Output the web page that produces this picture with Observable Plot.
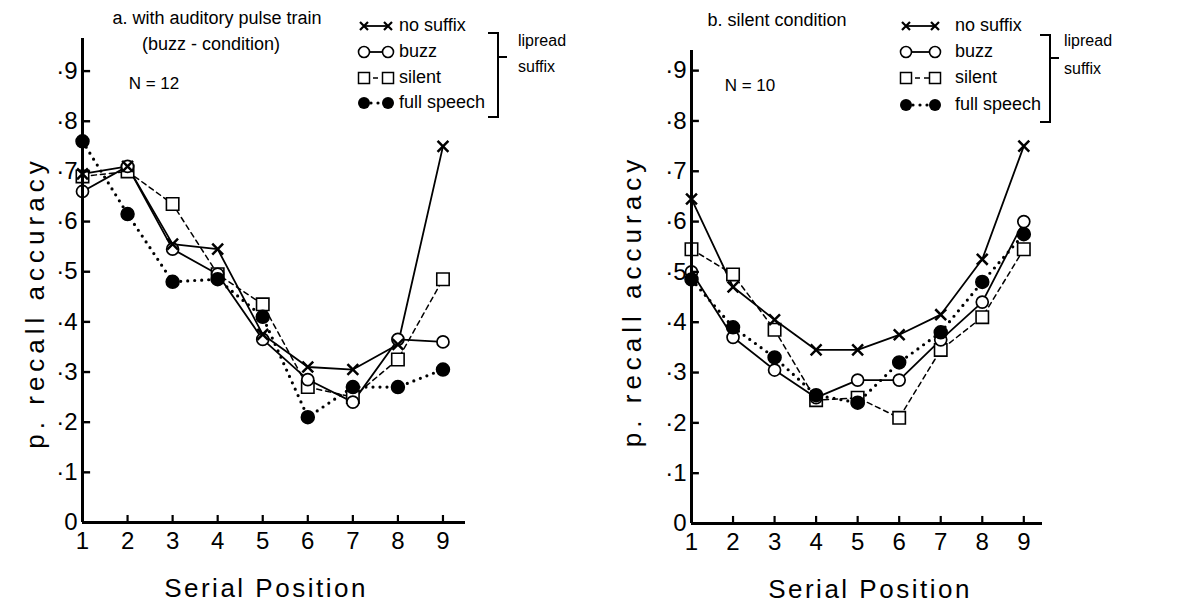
<!DOCTYPE html>
<html><head><meta charset="utf-8">
<script src="https://cdn.jsdelivr.net/npm/d3@7"></script>
<script src="https://cdn.jsdelivr.net/npm/@observablehq/plot@0.6"></script>
<style>
body{margin:0;background:#fff;}
#wrap{position:relative;width:1193px;height:603px;overflow:hidden;font-family:"Liberation Sans",Arial,sans-serif;}
#wrap > svg{position:absolute;top:0;}
</style></head><body><div id="wrap"></div>
<script>
// ---- data ----
const positions = [1,2,3,4,5,6,7,8,9];
const yTicks = [0,.1,.2,.3,.4,.5,.6,.7,.8,.9];
const seriesNames = ["no suffix","buzz","silent","full speech"];
const panelTitlesA = ["a. with auditory pulse train","(buzz - condition)"];
const panelTitlesB = ["b. silent condition"];
const nLabels = ["N = 12","N = 10"];
const bracketLabel = ["lipread","suffix"];
const xLabel = "Serial Position";
const yLabel = "p. recall accuracy";

const a_noSuffix = [.695,.71,.555,.545,.375,.31,.305,.355,.75];
const a_buzz     = [.66,.71,.545,.495,.365,.285,.24,.365,.36];
const a_silent   = [.69,.70,.635,.495,.435,.27,.25,.325,.485];
const a_full     = [.76,.615,.48,.485,.41,.21,.27,.27,.305];

const b_noSuffix = [.645,.47,.405,.345,.345,.375,.415,.525,.75];
const b_buzz     = [.50,.37,.305,.25,.285,.285,.365,.44,.60];
const b_silent   = [.545,.495,.385,.245,.25,.21,.345,.41,.545];
const b_full     = [.485,.39,.33,.255,.24,.32,.38,.48,.575];

function rows(arrs){
  const out=[];
  seriesNames.forEach((s,i)=>arrs[i].forEach((v,j)=>out.push({series:s,pos:positions[j],value:v})));
  return out;
}
const dataA = rows([a_noSuffix,a_buzz,a_silent,a_full]);
const dataB = rows([b_noSuffix,b_buzz,b_silent,b_full]);

const lineStyle = {
  "no suffix":  {strokeWidth:1.8},
  "buzz":       {strokeWidth:1.8},
  "silent":     {strokeWidth:1.5, strokeDasharray:"5,4"},
  "full speech":{strokeWidth:3.2, strokeDasharray:"0,7", strokeLinecap:"round"}
};

const FONT = "Liberation Sans, Arial, sans-serif";

function panel(data, o){
  const sel = s => data.filter(d=>d.series===s);
  const marks = [];
  seriesNames.forEach(s=>marks.push(Plot.line(sel(s),{x:"pos",y:"value",stroke:"#000",...lineStyle[s]})));
  marks.push(Plot.dot(sel("silent"),{x:"pos",y:"value",symbol:"square",r:7,fill:"#fff",stroke:"#000",strokeWidth:1.6}));
  marks.push(Plot.dot(sel("buzz"),{x:"pos",y:"value",symbol:"circle",r:6,fill:"#fff",stroke:"#000",strokeWidth:1.7}));
  marks.push(Plot.dot(sel("full speech"),{x:"pos",y:"value",symbol:"circle",r:6.5,fill:"#000",stroke:"#000"}));
  marks.push(Plot.dot(sel("no suffix"),{x:"pos",y:"value",symbol:"times",r:5,stroke:"#000",strokeWidth:2.5}));
  // axes
  marks.push(Plot.ruleX([1],{stroke:"#000",strokeWidth:3}));
  marks.push(Plot.ruleY([0],{stroke:"#000",strokeWidth:3}));
  marks.push(Plot.ruleY(yTicks.slice(1),{y:d=>d,x1:1,x2:1+o.tickX,stroke:"#000",strokeWidth:2.4}));
  marks.push(Plot.ruleX(positions.slice(1),{x:d=>d,y1:0,y2:0.014,stroke:"#000",strokeWidth:2.2}));
  marks.push(Plot.axisX({ticks:positions,tickSize:0,tickPadding:9,fontSize:24,label:null,tickFormat:d=>String(d)}));
  marks.push(Plot.axisY({ticks:yTicks,tickSize:0,tickPadding:5,fontSize:24,label:null,
    tickFormat:d=>d===0?"0":"\u00B7"+Math.round(d*10)}));
  marks.push(Plot.text([xLabel],{text:d=>d,frameAnchor:"bottom",dx:o.xlabDx,dy:74,fontSize:26}));
  marks.push(Plot.text([yLabel],{text:d=>d,frameAnchor:"left",textAnchor:"middle",rotate:-90,dx:o.ylabDx,dy:o.ylabDy,fontSize:26}));
  const svg = Plot.plot({
    width:o.width,height:603,
    marginLeft:o.ml,marginRight:o.mr,marginTop:o.mt,marginBottom:o.mb,
    x:{domain:o.xdom},y:{domain:o.ydom},
    style:{fontFamily:FONT,background:"transparent",color:"#000"},
    marks
  });
  d3.select(svg).selectAll("text").filter(function(){return this.textContent===xLabel;}).style("letter-spacing","2.5px");
  d3.select(svg).selectAll("text").filter(function(){return this.textContent===yLabel;}).style("letter-spacing","5px");
  svg.style.left = o.left+"px";
  return svg;
}

const wrap = document.getElementById("wrap");
wrap.appendChild(panel(dataA,{left:0,width:596,ml:82,mr:131,mt:38,mb:81,xdom:[1,9.5],ydom:[0,0.965],tickX:0.18,xlabDx:-8,ylabDx:-47,ylabDy:22}));
wrap.appendChild(panel(dataB,{left:596,width:597,ml:95,mr:151,mt:50,mb:80,xdom:[1,9.45],ydom:[0,0.94],tickX:0.19,xlabDx:3,ylabDx:-59,ylabDy:14}));

// ---- overlay: titles, N labels, legends ----
const ov = d3.select(wrap).append("svg").attr("width",1193).attr("height",603)
  .style("left","0px").style("font-family",FONT);

function txt(x,y,s,size,anchor){
  ov.append("text").attr("x",x).attr("y",y).attr("font-size",size).attr("dominant-baseline","middle")
    .attr("text-anchor",anchor||"start").text(s);
}
txt(217,19,panelTitlesA[0],18,"middle");
txt(211,45,panelTitlesA[1],18,"middle");
txt(154,85,nLabels[0],17,"middle");
txt(777,21,panelTitlesB[0],18,"middle");
txt(750,87,nLabels[1],17,"middle");

function legend(o){
  const ys=o.ys;
  seriesNames.forEach((s,i)=>{
    const y=ys[i];
    const ls=lineStyle[s];
    ov.append("line").attr("x1",o.x0).attr("x2",o.x1).attr("y1",y).attr("y2",y).attr("stroke","#000")
      .attr("stroke-width",ls.strokeWidth).attr("stroke-dasharray",ls.strokeDasharray||null)
      .attr("stroke-linecap",ls.strokeLinecap||null);
    [o.x0,o.x1].forEach(x=>{
      if(s==="no suffix"){
        ov.append("path").attr("d",`M${x-4},${y-4}L${x+4},${y+4}M${x-4},${y+4}L${x+4},${y-4}`).attr("stroke","#000").attr("stroke-width",2.2);
      } else if(s==="buzz"){
        ov.append("circle").attr("cx",x).attr("cy",y).attr("r",5.5).attr("fill","#fff").attr("stroke","#000").attr("stroke-width",1.6);
      } else if(s==="silent"){
        ov.append("rect").attr("x",x-5.5).attr("y",y-5.5).attr("width",11).attr("height",11).attr("fill","#fff").attr("stroke","#000").attr("stroke-width",1.5);
      } else {
        ov.append("circle").attr("cx",x).attr("cy",y).attr("r",6).attr("fill","#000");
      }
    });
    txt(o.tx,y,s,18);
  });
  const b=o.br;
  ov.append("path").attr("d",`M${b.x-10},${b.y0}H${b.x}V${b.y1}H${b.x-10}M${b.x},${b.ym}H${b.x+9}`)
    .attr("fill","none").attr("stroke","#000").attr("stroke-width",2);
  txt(b.lx,b.ly0,bracketLabel[0],16);
  txt(b.lx,b.ly1,bracketLabel[1],16);
}
legend({x0:364,x1:388,tx:399,ys:[26,52,78,103],br:{x:498,y0:33,y1:117,ym:57,lx:518,ly0:42,ly1:68}});
legend({x0:906,x1:935,tx:955,ys:[26,52,78,105],br:{x:1050,y0:35,y1:122,ym:58,lx:1064,ly0:42,ly1:70}});
</script></body></html>
